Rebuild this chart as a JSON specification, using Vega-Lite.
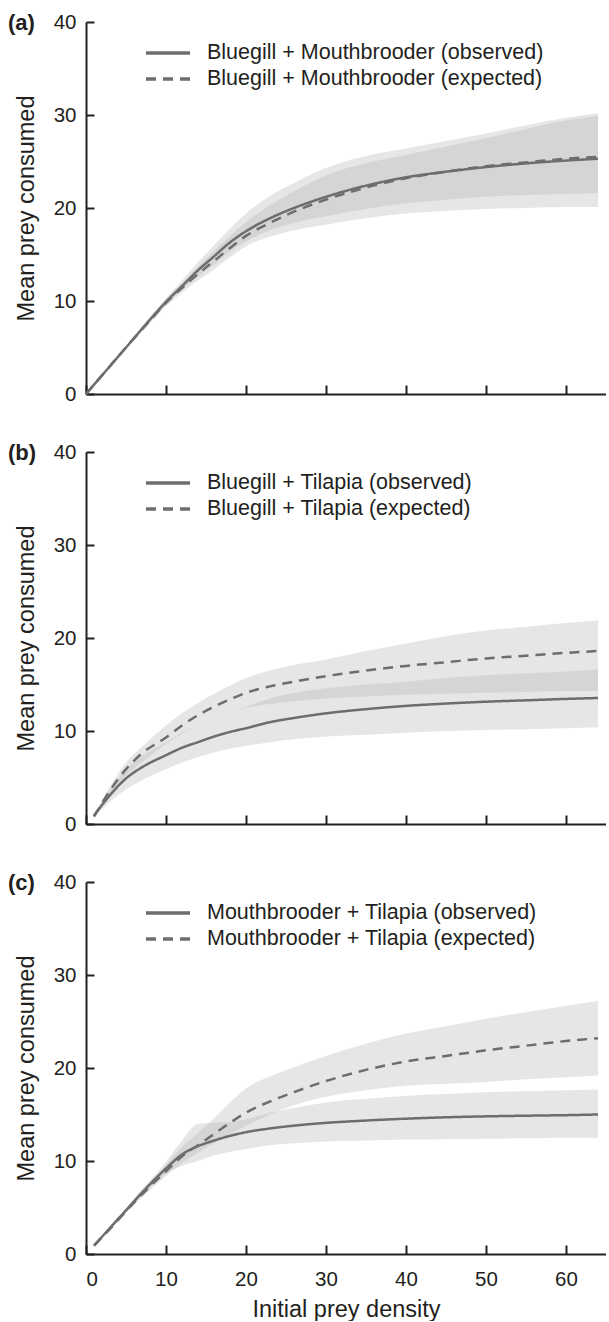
{
  "$schema": "https://vega.github.io/schema/vega-lite/v6.json",
  "background": "white",
  "padding": {"left": 8, "top": 12, "right": 0, "bottom": 0},
  "config": {
    "view": {"stroke": null},
    "font": "Liberation Sans",
    "axis": {
      "domainColor": "#231f20", "domainWidth": 2, "tickColor": "#231f20", "tickWidth": 2,
      "grid": false, "labelFont": "Liberation Sans", "labelFontSize": 20.5, "labelColor": "#231f20",
      "titleFont": "Liberation Sans", "titleFontSize": 23.5, "titleFontWeight": "normal", "titleColor": "#231f20"
    },
    "legend": {
      "orient": "none", "legendX": 69, "legendY": 18, "title": null, "symbolType": "M-2,0H2",
      "symbolSize": 484, "symbolStrokeWidth": 3.5, "symbolStrokeColor": "#6d6d6d",
      "labelFont": "Liberation Sans", "labelFontSize": 21.5, "labelColor": "#231f20",
      "labelOffset": 26, "padding": 0, "labelLimit": 0, "rowPadding": 2
    },
    "title": {"anchor": "start", "frame": "group", "fontSize": 22, "fontWeight": "bold", "font": "Liberation Sans", "color": "#231f20", "dx": -78, "dy": 27, "offset": 0, "baseline": "middle"}
  },
  "datasets": {
    "a": [
      {"series": "Bluegill + Mouthbrooder (observed)", "x": 0, "y": 0, "lo": 0, "hi": 0},
      {"series": "Bluegill + Mouthbrooder (observed)", "x": 2, "y": 2.0, "lo": 2.0, "hi": 2.0},
      {"series": "Bluegill + Mouthbrooder (observed)", "x": 5, "y": 5.0, "lo": 4.9, "hi": 5.1},
      {"series": "Bluegill + Mouthbrooder (observed)", "x": 8, "y": 8.0, "lo": 7.8, "hi": 8.2},
      {"series": "Bluegill + Mouthbrooder (observed)", "x": 10, "y": 9.9, "lo": 9.6, "hi": 10.3},
      {"series": "Bluegill + Mouthbrooder (observed)", "x": 12, "y": 11.6, "lo": 11.2, "hi": 12.2},
      {"series": "Bluegill + Mouthbrooder (observed)", "x": 14, "y": 13.3, "lo": 12.6, "hi": 14.2},
      {"series": "Bluegill + Mouthbrooder (observed)", "x": 16, "y": 14.8, "lo": 13.9, "hi": 16.0},
      {"series": "Bluegill + Mouthbrooder (observed)", "x": 18, "y": 16.3, "lo": 15.3, "hi": 17.8},
      {"series": "Bluegill + Mouthbrooder (observed)", "x": 20, "y": 17.5, "lo": 16.4, "hi": 19.4},
      {"series": "Bluegill + Mouthbrooder (observed)", "x": 23, "y": 18.9, "lo": 17.6, "hi": 21.3},
      {"series": "Bluegill + Mouthbrooder (observed)", "x": 26, "y": 20.0, "lo": 18.4, "hi": 22.7},
      {"series": "Bluegill + Mouthbrooder (observed)", "x": 30, "y": 21.2, "lo": 19.1, "hi": 24.3},
      {"series": "Bluegill + Mouthbrooder (observed)", "x": 35, "y": 22.4, "lo": 19.9, "hi": 25.6},
      {"series": "Bluegill + Mouthbrooder (observed)", "x": 40, "y": 23.3, "lo": 20.5, "hi": 26.4},
      {"series": "Bluegill + Mouthbrooder (observed)", "x": 45, "y": 23.9, "lo": 20.9, "hi": 27.2},
      {"series": "Bluegill + Mouthbrooder (observed)", "x": 50, "y": 24.4, "lo": 21.2, "hi": 28.0},
      {"series": "Bluegill + Mouthbrooder (observed)", "x": 55, "y": 24.8, "lo": 21.4, "hi": 28.9},
      {"series": "Bluegill + Mouthbrooder (observed)", "x": 60, "y": 25.1, "lo": 21.5, "hi": 29.7},
      {"series": "Bluegill + Mouthbrooder (observed)", "x": 64, "y": 25.3, "lo": 21.6, "hi": 30.2},
      {"series": "Bluegill + Mouthbrooder (expected)", "x": 0, "y": 0, "lo": 0, "hi": 0},
      {"series": "Bluegill + Mouthbrooder (expected)", "x": 2, "y": 2.0, "lo": 1.95, "hi": 2.05},
      {"series": "Bluegill + Mouthbrooder (expected)", "x": 5, "y": 5.0, "lo": 4.85, "hi": 5.15},
      {"series": "Bluegill + Mouthbrooder (expected)", "x": 8, "y": 7.9, "lo": 7.6, "hi": 8.2},
      {"series": "Bluegill + Mouthbrooder (expected)", "x": 10, "y": 9.8, "lo": 9.4, "hi": 10.2},
      {"series": "Bluegill + Mouthbrooder (expected)", "x": 12, "y": 11.4, "lo": 10.9, "hi": 11.9},
      {"series": "Bluegill + Mouthbrooder (expected)", "x": 14, "y": 12.9, "lo": 12.2, "hi": 13.7},
      {"series": "Bluegill + Mouthbrooder (expected)", "x": 16, "y": 14.3, "lo": 13.4, "hi": 15.4},
      {"series": "Bluegill + Mouthbrooder (expected)", "x": 18, "y": 15.7, "lo": 14.7, "hi": 17.0},
      {"series": "Bluegill + Mouthbrooder (expected)", "x": 20, "y": 17.0, "lo": 15.9, "hi": 18.5},
      {"series": "Bluegill + Mouthbrooder (expected)", "x": 23, "y": 18.4, "lo": 16.9, "hi": 20.3},
      {"series": "Bluegill + Mouthbrooder (expected)", "x": 26, "y": 19.6, "lo": 17.6, "hi": 21.8},
      {"series": "Bluegill + Mouthbrooder (expected)", "x": 30, "y": 20.9, "lo": 18.2, "hi": 23.5},
      {"series": "Bluegill + Mouthbrooder (expected)", "x": 35, "y": 22.2, "lo": 18.9, "hi": 24.8},
      {"series": "Bluegill + Mouthbrooder (expected)", "x": 40, "y": 23.2, "lo": 19.4, "hi": 25.7},
      {"series": "Bluegill + Mouthbrooder (expected)", "x": 45, "y": 23.9, "lo": 19.7, "hi": 26.6},
      {"series": "Bluegill + Mouthbrooder (expected)", "x": 50, "y": 24.5, "lo": 19.9, "hi": 27.5},
      {"series": "Bluegill + Mouthbrooder (expected)", "x": 55, "y": 24.9, "lo": 20.0, "hi": 28.5},
      {"series": "Bluegill + Mouthbrooder (expected)", "x": 60, "y": 25.3, "lo": 20.1, "hi": 29.4},
      {"series": "Bluegill + Mouthbrooder (expected)", "x": 64, "y": 25.5, "lo": 20.1, "hi": 29.9}
    ],
    "b": [
      {"series": "Bluegill + Tilapia (observed)", "x": 1, "y": 0.9, "lo": 0.8, "hi": 0.95},
      {"series": "Bluegill + Tilapia (observed)", "x": 3, "y": 3.1, "lo": 2.4, "hi": 3.7},
      {"series": "Bluegill + Tilapia (observed)", "x": 5, "y": 4.9, "lo": 3.7, "hi": 5.9},
      {"series": "Bluegill + Tilapia (observed)", "x": 7, "y": 6.1, "lo": 4.7, "hi": 7.3},
      {"series": "Bluegill + Tilapia (observed)", "x": 10, "y": 7.4, "lo": 5.9, "hi": 8.8},
      {"series": "Bluegill + Tilapia (observed)", "x": 12, "y": 8.2, "lo": 6.6, "hi": 9.8},
      {"series": "Bluegill + Tilapia (observed)", "x": 14, "y": 8.8, "lo": 7.2, "hi": 10.6},
      {"series": "Bluegill + Tilapia (observed)", "x": 16, "y": 9.4, "lo": 7.7, "hi": 11.3},
      {"series": "Bluegill + Tilapia (observed)", "x": 18, "y": 9.9, "lo": 8.1, "hi": 12.0},
      {"series": "Bluegill + Tilapia (observed)", "x": 20, "y": 10.3, "lo": 8.4, "hi": 12.6},
      {"series": "Bluegill + Tilapia (observed)", "x": 23, "y": 10.95, "lo": 8.8, "hi": 13.5},
      {"series": "Bluegill + Tilapia (observed)", "x": 26, "y": 11.4, "lo": 9.1, "hi": 14.1},
      {"series": "Bluegill + Tilapia (observed)", "x": 30, "y": 11.9, "lo": 9.4, "hi": 14.6},
      {"series": "Bluegill + Tilapia (observed)", "x": 35, "y": 12.35, "lo": 9.6, "hi": 15.0},
      {"series": "Bluegill + Tilapia (observed)", "x": 40, "y": 12.7, "lo": 9.8, "hi": 15.3},
      {"series": "Bluegill + Tilapia (observed)", "x": 45, "y": 12.95, "lo": 10.0, "hi": 15.7},
      {"series": "Bluegill + Tilapia (observed)", "x": 50, "y": 13.15, "lo": 10.1, "hi": 16.0},
      {"series": "Bluegill + Tilapia (observed)", "x": 55, "y": 13.3, "lo": 10.2, "hi": 16.2},
      {"series": "Bluegill + Tilapia (observed)", "x": 60, "y": 13.45, "lo": 10.3, "hi": 16.4},
      {"series": "Bluegill + Tilapia (observed)", "x": 64, "y": 13.55, "lo": 10.4, "hi": 16.6},
      {"series": "Bluegill + Tilapia (expected)", "x": 1, "y": 0.8, "lo": 0.75, "hi": 0.9},
      {"series": "Bluegill + Tilapia (expected)", "x": 3, "y": 3.6, "lo": 3.2, "hi": 4.0},
      {"series": "Bluegill + Tilapia (expected)", "x": 5, "y": 5.9, "lo": 5.2, "hi": 6.6},
      {"series": "Bluegill + Tilapia (expected)", "x": 7, "y": 7.6, "lo": 6.6, "hi": 8.3},
      {"series": "Bluegill + Tilapia (expected)", "x": 10, "y": 9.3, "lo": 8.6, "hi": 10.6},
      {"series": "Bluegill + Tilapia (expected)", "x": 12, "y": 10.6, "lo": 9.7, "hi": 11.9},
      {"series": "Bluegill + Tilapia (expected)", "x": 14, "y": 11.7, "lo": 10.6, "hi": 13.0},
      {"series": "Bluegill + Tilapia (expected)", "x": 16, "y": 12.6, "lo": 11.3, "hi": 14.0},
      {"series": "Bluegill + Tilapia (expected)", "x": 18, "y": 13.4, "lo": 12.0, "hi": 14.9},
      {"series": "Bluegill + Tilapia (expected)", "x": 20, "y": 14.1, "lo": 12.5, "hi": 15.7},
      {"series": "Bluegill + Tilapia (expected)", "x": 23, "y": 14.8, "lo": 12.9, "hi": 16.5},
      {"series": "Bluegill + Tilapia (expected)", "x": 26, "y": 15.3, "lo": 13.2, "hi": 17.1},
      {"series": "Bluegill + Tilapia (expected)", "x": 30, "y": 15.9, "lo": 13.5, "hi": 17.7},
      {"series": "Bluegill + Tilapia (expected)", "x": 35, "y": 16.5, "lo": 13.7, "hi": 18.6},
      {"series": "Bluegill + Tilapia (expected)", "x": 40, "y": 17.0, "lo": 13.9, "hi": 19.4},
      {"series": "Bluegill + Tilapia (expected)", "x": 45, "y": 17.4, "lo": 14.0, "hi": 20.2},
      {"series": "Bluegill + Tilapia (expected)", "x": 50, "y": 17.8, "lo": 14.1, "hi": 20.8},
      {"series": "Bluegill + Tilapia (expected)", "x": 55, "y": 18.1, "lo": 14.2, "hi": 21.2},
      {"series": "Bluegill + Tilapia (expected)", "x": 60, "y": 18.4, "lo": 14.3, "hi": 21.6},
      {"series": "Bluegill + Tilapia (expected)", "x": 64, "y": 18.6, "lo": 14.3, "hi": 21.9}
    ],
    "c": [
      {"series": "Mouthbrooder + Tilapia (observed)", "x": 1, "y": 0.9, "lo": 0.9, "hi": 0.95},
      {"series": "Mouthbrooder + Tilapia (observed)", "x": 3, "y": 2.8, "lo": 2.7, "hi": 2.95},
      {"series": "Mouthbrooder + Tilapia (observed)", "x": 5, "y": 4.7, "lo": 4.5, "hi": 4.95},
      {"series": "Mouthbrooder + Tilapia (observed)", "x": 7, "y": 6.6, "lo": 6.3, "hi": 7.0},
      {"series": "Mouthbrooder + Tilapia (observed)", "x": 10, "y": 9.2, "lo": 8.6, "hi": 9.9},
      {"series": "Mouthbrooder + Tilapia (observed)", "x": 12, "y": 10.7, "lo": 9.5, "hi": 12.2},
      {"series": "Mouthbrooder + Tilapia (observed)", "x": 14, "y": 11.6, "lo": 10.0, "hi": 14.0},
      {"series": "Mouthbrooder + Tilapia (observed)", "x": 16, "y": 12.2, "lo": 10.6, "hi": 14.1},
      {"series": "Mouthbrooder + Tilapia (observed)", "x": 18, "y": 12.7, "lo": 11.0, "hi": 14.2},
      {"series": "Mouthbrooder + Tilapia (observed)", "x": 20, "y": 13.1, "lo": 11.3, "hi": 14.5},
      {"series": "Mouthbrooder + Tilapia (observed)", "x": 23, "y": 13.5, "lo": 11.7, "hi": 15.2},
      {"series": "Mouthbrooder + Tilapia (observed)", "x": 26, "y": 13.8, "lo": 11.9, "hi": 15.7},
      {"series": "Mouthbrooder + Tilapia (observed)", "x": 30, "y": 14.1, "lo": 12.1, "hi": 16.3},
      {"series": "Mouthbrooder + Tilapia (observed)", "x": 35, "y": 14.35, "lo": 12.2, "hi": 16.7},
      {"series": "Mouthbrooder + Tilapia (observed)", "x": 40, "y": 14.55, "lo": 12.3, "hi": 17.0},
      {"series": "Mouthbrooder + Tilapia (observed)", "x": 45, "y": 14.7, "lo": 12.35, "hi": 17.2},
      {"series": "Mouthbrooder + Tilapia (observed)", "x": 50, "y": 14.8, "lo": 12.4, "hi": 17.4},
      {"series": "Mouthbrooder + Tilapia (observed)", "x": 55, "y": 14.87, "lo": 12.45, "hi": 17.5},
      {"series": "Mouthbrooder + Tilapia (observed)", "x": 60, "y": 14.93, "lo": 12.5, "hi": 17.6},
      {"series": "Mouthbrooder + Tilapia (observed)", "x": 64, "y": 15.0, "lo": 12.5, "hi": 17.7},
      {"series": "Mouthbrooder + Tilapia (expected)", "x": 1, "y": 0.9, "lo": 0.85, "hi": 0.95},
      {"series": "Mouthbrooder + Tilapia (expected)", "x": 3, "y": 2.7, "lo": 2.6, "hi": 2.85},
      {"series": "Mouthbrooder + Tilapia (expected)", "x": 5, "y": 4.6, "lo": 4.4, "hi": 4.8},
      {"series": "Mouthbrooder + Tilapia (expected)", "x": 7, "y": 6.4, "lo": 6.1, "hi": 6.7},
      {"series": "Mouthbrooder + Tilapia (expected)", "x": 10, "y": 8.9, "lo": 8.4, "hi": 9.6},
      {"series": "Mouthbrooder + Tilapia (expected)", "x": 12, "y": 10.5, "lo": 9.8, "hi": 11.5},
      {"series": "Mouthbrooder + Tilapia (expected)", "x": 14, "y": 11.7, "lo": 10.9, "hi": 13.0},
      {"series": "Mouthbrooder + Tilapia (expected)", "x": 16, "y": 12.9, "lo": 11.9, "hi": 14.6},
      {"series": "Mouthbrooder + Tilapia (expected)", "x": 18, "y": 14.1, "lo": 12.9, "hi": 16.3},
      {"series": "Mouthbrooder + Tilapia (expected)", "x": 20, "y": 15.2, "lo": 13.8, "hi": 17.8},
      {"series": "Mouthbrooder + Tilapia (expected)", "x": 23, "y": 16.4, "lo": 15.0, "hi": 19.1},
      {"series": "Mouthbrooder + Tilapia (expected)", "x": 26, "y": 17.4, "lo": 16.0, "hi": 20.1},
      {"series": "Mouthbrooder + Tilapia (expected)", "x": 30, "y": 18.6, "lo": 16.9, "hi": 21.3},
      {"series": "Mouthbrooder + Tilapia (expected)", "x": 35, "y": 19.8, "lo": 17.6, "hi": 22.6},
      {"series": "Mouthbrooder + Tilapia (expected)", "x": 40, "y": 20.7, "lo": 18.1, "hi": 23.7},
      {"series": "Mouthbrooder + Tilapia (expected)", "x": 45, "y": 21.3, "lo": 18.3, "hi": 24.5},
      {"series": "Mouthbrooder + Tilapia (expected)", "x": 50, "y": 21.9, "lo": 18.5, "hi": 25.3},
      {"series": "Mouthbrooder + Tilapia (expected)", "x": 55, "y": 22.4, "lo": 18.8, "hi": 26.0},
      {"series": "Mouthbrooder + Tilapia (expected)", "x": 60, "y": 22.9, "lo": 19.0, "hi": 26.7},
      {"series": "Mouthbrooder + Tilapia (expected)", "x": 64, "y": 23.2, "lo": 19.2, "hi": 27.2}
    ]
  },
  "resolve": {"scale": {"strokeDash": "independent"}, "legend": {"strokeDash": "independent"}},
  "spacing": 37,
  "vconcat": [
    {
      "width": 520, "height": 372,
      "title": {"text": "(a)"},
      "data": {"name": "a"},
      "layer": [
        {
          "mark": {"type": "area", "fill": "#b1b2b4", "opacity": 0.32, "interpolate": "monotone"},
          "encoding": {
            "x": {"field": "x", "type": "quantitative", "scale": {"domain": [0, 65]}, "axis": {"values": [0, 10, 20, 30, 40, 50, 60], "labels": false, "title": null, "tickSize": -9}},
            "y": {"field": "lo", "type": "quantitative", "scale": {"domain": [0, 40]}, "axis": {"values": [0, 10, 20, 30, 40], "title": "Mean prey consumed", "tickSize": -8, "labelPadding": 18, "titlePadding": 15}},
            "y2": {"field": "hi"},
            "detail": {"field": "series"}
          }
        },
        {
          "mark": {"type": "line", "stroke": "#6d6d6d", "strokeWidth": 2.5, "interpolate": "monotone"},
          "encoding": {
            "x": {"field": "x", "type": "quantitative"},
            "y": {"field": "y", "type": "quantitative"},
            "strokeDash": {"field": "series", "type": "nominal", "scale": {"domain": ["Bluegill + Mouthbrooder (observed)", "Bluegill + Mouthbrooder (expected)"], "range": [[1, 0], [10, 7]]}}
          }
        }
      ]
    },
    {
      "width": 520, "height": 372,
      "title": {"text": "(b)"},
      "data": {"name": "b"},
      "layer": [
        {
          "mark": {"type": "area", "fill": "#b1b2b4", "opacity": 0.32, "interpolate": "monotone"},
          "encoding": {
            "x": {"field": "x", "type": "quantitative", "scale": {"domain": [0, 65]}, "axis": {"values": [0, 10, 20, 30, 40, 50, 60], "labels": false, "title": null, "tickSize": -9}},
            "y": {"field": "lo", "type": "quantitative", "scale": {"domain": [0, 40]}, "axis": {"values": [0, 10, 20, 30, 40], "title": "Mean prey consumed", "tickSize": -8, "labelPadding": 18, "titlePadding": 15}},
            "y2": {"field": "hi"},
            "detail": {"field": "series"}
          }
        },
        {
          "mark": {"type": "line", "stroke": "#6d6d6d", "strokeWidth": 2.5, "interpolate": "monotone"},
          "encoding": {
            "x": {"field": "x", "type": "quantitative"},
            "y": {"field": "y", "type": "quantitative"},
            "strokeDash": {"field": "series", "type": "nominal", "scale": {"domain": ["Bluegill + Tilapia (observed)", "Bluegill + Tilapia (expected)"], "range": [[1, 0], [10, 7]]}}
          }
        }
      ]
    },
    {
      "width": 520, "height": 372,
      "title": {"text": "(c)"},
      "data": {"name": "c"},
      "layer": [
        {
          "mark": {"type": "area", "fill": "#b1b2b4", "opacity": 0.32, "interpolate": "monotone"},
          "encoding": {
            "x": {"field": "x", "type": "quantitative", "scale": {"domain": [0, 65]}, "axis": {"values": [0, 10, 20, 30, 40, 50, 60], "title": "Initial prey density", "tickSize": -9, "labelPadding": 24, "titlePadding": 8}},
            "y": {"field": "lo", "type": "quantitative", "scale": {"domain": [0, 40]}, "axis": {"values": [0, 10, 20, 30, 40], "title": "Mean prey consumed", "tickSize": -8, "labelPadding": 18, "titlePadding": 15}},
            "y2": {"field": "hi"},
            "detail": {"field": "series"}
          }
        },
        {
          "mark": {"type": "line", "stroke": "#6d6d6d", "strokeWidth": 2.5, "interpolate": "monotone"},
          "encoding": {
            "x": {"field": "x", "type": "quantitative"},
            "y": {"field": "y", "type": "quantitative"},
            "strokeDash": {"field": "series", "type": "nominal", "scale": {"domain": ["Mouthbrooder + Tilapia (observed)", "Mouthbrooder + Tilapia (expected)"], "range": [[1, 0], [10, 7]]}}
          }
        }
      ]
    }
  ]
}
